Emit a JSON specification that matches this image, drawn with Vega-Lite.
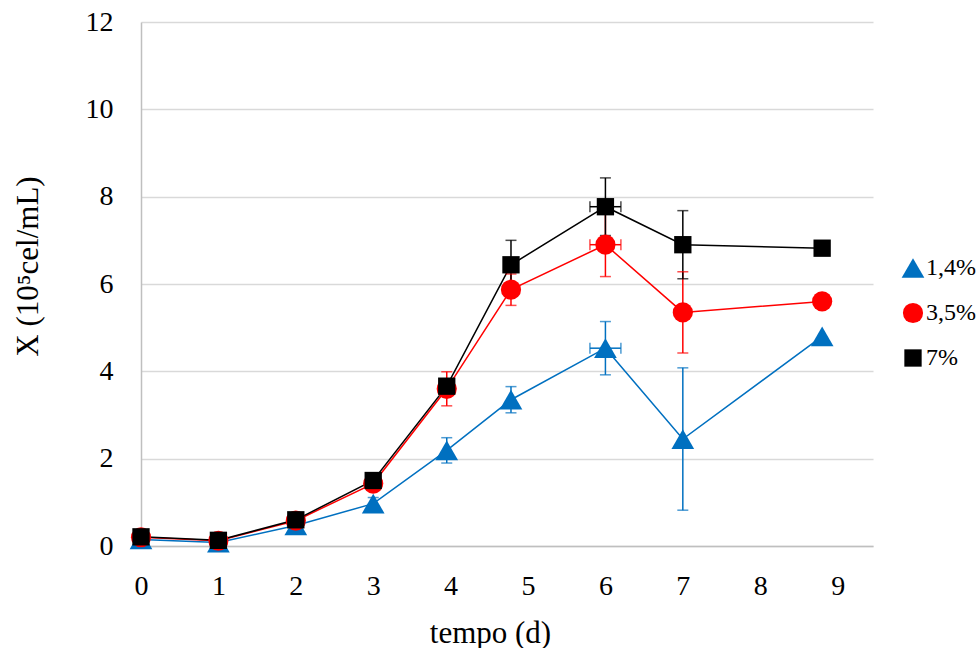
{
  "$schema": "https://vega.github.io/schema/vega-lite/v6.json",
  "width": 732,
  "height": 524,
  "autosize": "none",
  "padding": {"left": 141, "top": 22, "right": 104, "bottom": 102},
  "background": "white",
  "config": {
    "view": {"stroke": null},
    "font": "Liberation Serif",
    "axis": {"labelFont": "Liberation Serif", "titleFont": "Liberation Serif", "labelColor": "black", "titleColor": "black", "titleFontWeight": "normal"}
  },
  "data": {
    "values": [
      {"series": "1,4%", "t": 0, "cel": 0.15},
      {"series": "1,4%", "t": 1, "cel": 0.08},
      {"series": "1,4%", "t": 2, "cel": 0.47, "lo": 0.37, "hi": 0.57},
      {"series": "1,4%", "t": 3, "cel": 0.97, "lo": 0.83, "hi": 1.11},
      {"series": "1,4%", "t": 3.95, "cel": 2.19, "lo": 1.9, "hi": 2.48},
      {"series": "1,4%", "t": 4.78, "cel": 3.35, "lo": 3.05, "hi": 3.65},
      {"series": "1,4%", "t": 6, "cel": 4.53, "lo": 3.92, "hi": 5.14, "tlo": 5.8, "thi": 6.2},
      {"series": "1,4%", "t": 7, "cel": 2.45, "lo": 0.82, "hi": 4.08},
      {"series": "1,4%", "t": 8.8, "cel": 4.8},
      {"series": "3,5%", "t": 0, "cel": 0.2},
      {"series": "3,5%", "t": 1, "cel": 0.12},
      {"series": "3,5%", "t": 2, "cel": 0.58},
      {"series": "3,5%", "t": 3, "cel": 1.43},
      {"series": "3,5%", "t": 3.95, "cel": 3.6, "lo": 3.21, "hi": 3.99},
      {"series": "3,5%", "t": 4.78, "cel": 5.87, "lo": 5.51, "hi": 6.23},
      {"series": "3,5%", "t": 6, "cel": 6.9, "lo": 6.17, "hi": 7.63, "tlo": 5.8, "thi": 6.2},
      {"series": "3,5%", "t": 7, "cel": 5.35, "lo": 4.42, "hi": 6.28},
      {"series": "3,5%", "t": 8.8, "cel": 5.6},
      {"series": "7%", "t": 0, "cel": 0.21},
      {"series": "7%", "t": 1, "cel": 0.13},
      {"series": "7%", "t": 2, "cel": 0.6},
      {"series": "7%", "t": 3, "cel": 1.5},
      {"series": "7%", "t": 3.95, "cel": 3.66},
      {"series": "7%", "t": 4.78, "cel": 6.44, "lo": 5.88, "hi": 7.0},
      {"series": "7%", "t": 6, "cel": 7.77, "lo": 7.11, "hi": 8.43, "tlo": 5.8, "thi": 6.2},
      {"series": "7%", "t": 7, "cel": 6.9, "lo": 6.12, "hi": 7.68},
      {"series": "7%", "t": 8.8, "cel": 6.82}
    ]
  },
  "resolve": {"legend": {"color": "independent", "shape": "independent", "size": "independent"}},
  "encoding": {
    "x": {
      "field": "t",
      "type": "quantitative",
      "scale": {"domain": [0, 9.457], "nice": false, "zero": false},
      "axis": {
        "title": "tempo (d)",
        "values": [0, 1, 2, 3, 4, 5, 6, 7, 8, 9],
        "grid": false,
        "ticks": false,
        "domainColor": "#bfbfbf",
        "domainWidth": 1.5,
        "labelFontSize": 28,
        "labelPadding": 26,
        "labelFlush": false,
        "labelOverlap": false,
        "titleFontSize": 31,
        "titleX": 349,
        "titleY": 87,
        "titleBaseline": "middle",
        "titleAlign": "center"
      }
    }
  },
  "layer": [
    {
      "mark": {"type": "line", "strokeWidth": 1.5},
      "encoding": {
        "y": {
          "field": "cel",
          "type": "quantitative",
          "scale": {"domain": [0, 12], "nice": false},
          "axis": {
            "title": "X (10⁵cel/mL)",
            "values": [0, 2, 4, 6, 8, 10, 12],
            "grid": true,
            "gridColor": "#d9d9d9",
            "gridWidth": 1.5,
            "ticks": false,
            "domainColor": "#bfbfbf",
            "domainWidth": 1.5,
            "labelFontSize": 28,
            "labelPadding": 28,
            "titleFontSize": 31,
            "titleX": -113,
            "titleY": 244,
            "titleAngle": -90,
            "titleBaseline": "middle",
            "titleAlign": "center"
          }
        },
        "color": {
          "field": "series",
          "type": "nominal",
          "scale": {"domain": ["1,4%", "3,5%", "7%"], "range": ["#0070C0", "#FF0000", "#000000"]},
          "legend": null
        }
      }
    },
    {
      "transform": [{"filter": "isValid(datum.lo)"}],
      "mark": {"type": "rule", "strokeWidth": 1.5},
      "encoding": {
        "y": {"field": "lo", "type": "quantitative"},
        "y2": {"field": "hi"},
        "color": {"field": "series", "type": "nominal", "legend": null}
      }
    },
    {
      "transform": [{"filter": "isValid(datum.lo)"}],
      "mark": {"type": "tick", "orient": "horizontal", "size": 11, "thickness": 1.5},
      "encoding": {
        "y": {"field": "lo", "type": "quantitative"},
        "color": {"field": "series", "type": "nominal", "legend": null}
      }
    },
    {
      "transform": [{"filter": "isValid(datum.hi)"}],
      "mark": {"type": "tick", "orient": "horizontal", "size": 11, "thickness": 1.5},
      "encoding": {
        "y": {"field": "hi", "type": "quantitative"},
        "color": {"field": "series", "type": "nominal", "legend": null}
      }
    },
    {
      "transform": [{"filter": "isValid(datum.tlo)"}],
      "mark": {"type": "rule", "strokeWidth": 1.5},
      "encoding": {
        "x": {"field": "tlo", "type": "quantitative"},
        "x2": {"field": "thi"},
        "y": {"field": "cel", "type": "quantitative"},
        "color": {"field": "series", "type": "nominal", "legend": null}
      }
    },
    {
      "transform": [{"filter": "isValid(datum.tlo)"}],
      "mark": {"type": "tick", "orient": "vertical", "size": 11, "thickness": 1.5},
      "encoding": {
        "x": {"field": "tlo", "type": "quantitative"},
        "y": {"field": "cel", "type": "quantitative"},
        "color": {"field": "series", "type": "nominal", "legend": null}
      }
    },
    {
      "transform": [{"filter": "isValid(datum.thi)"}],
      "mark": {"type": "tick", "orient": "vertical", "size": 11, "thickness": 1.5},
      "encoding": {
        "x": {"field": "thi", "type": "quantitative"},
        "y": {"field": "cel", "type": "quantitative"},
        "color": {"field": "series", "type": "nominal", "legend": null}
      }
    },
    {
      "mark": {"type": "point", "filled": true, "opacity": 1, "strokeWidth": 0},
      "encoding": {
        "y": {"field": "cel", "type": "quantitative"},
        "color": {
          "field": "series",
          "type": "nominal",
          "legend": {
            "orient": "none",
            "legendX": 760,
            "legendY": 234,
            "title": null,
            "padding": 0,
            "labelFont": "Liberation Serif",
            "labelFontSize": 24,
            "labelColor": "black",
            "labelOffset": 1,
            "symbolSize": 240,
            "symbolStrokeWidth": 0,
            "rowPadding": 21
          }
        },
        "shape": {
          "field": "series",
          "type": "nominal",
          "scale": {"domain": ["1,4%", "3,5%", "7%"], "range": ["M0,-0.87L1,0.87L-1,0.87Z", "circle", "square"]},
          "legend": {
            "orient": "none",
            "legendX": 760,
            "legendY": 234,
            "title": null,
            "padding": 0,
            "labelFont": "Liberation Serif",
            "labelFontSize": 24,
            "labelColor": "black",
            "labelOffset": 1,
            "symbolSize": 240,
            "symbolStrokeWidth": 0,
            "rowPadding": 21
          }
        },
        "size": {
          "field": "series",
          "type": "nominal",
          "scale": {"domain": ["1,4%", "3,5%", "7%"], "range": [515, 300, 280]},
          "legend": null
        }
      }
    }
  ]
}
